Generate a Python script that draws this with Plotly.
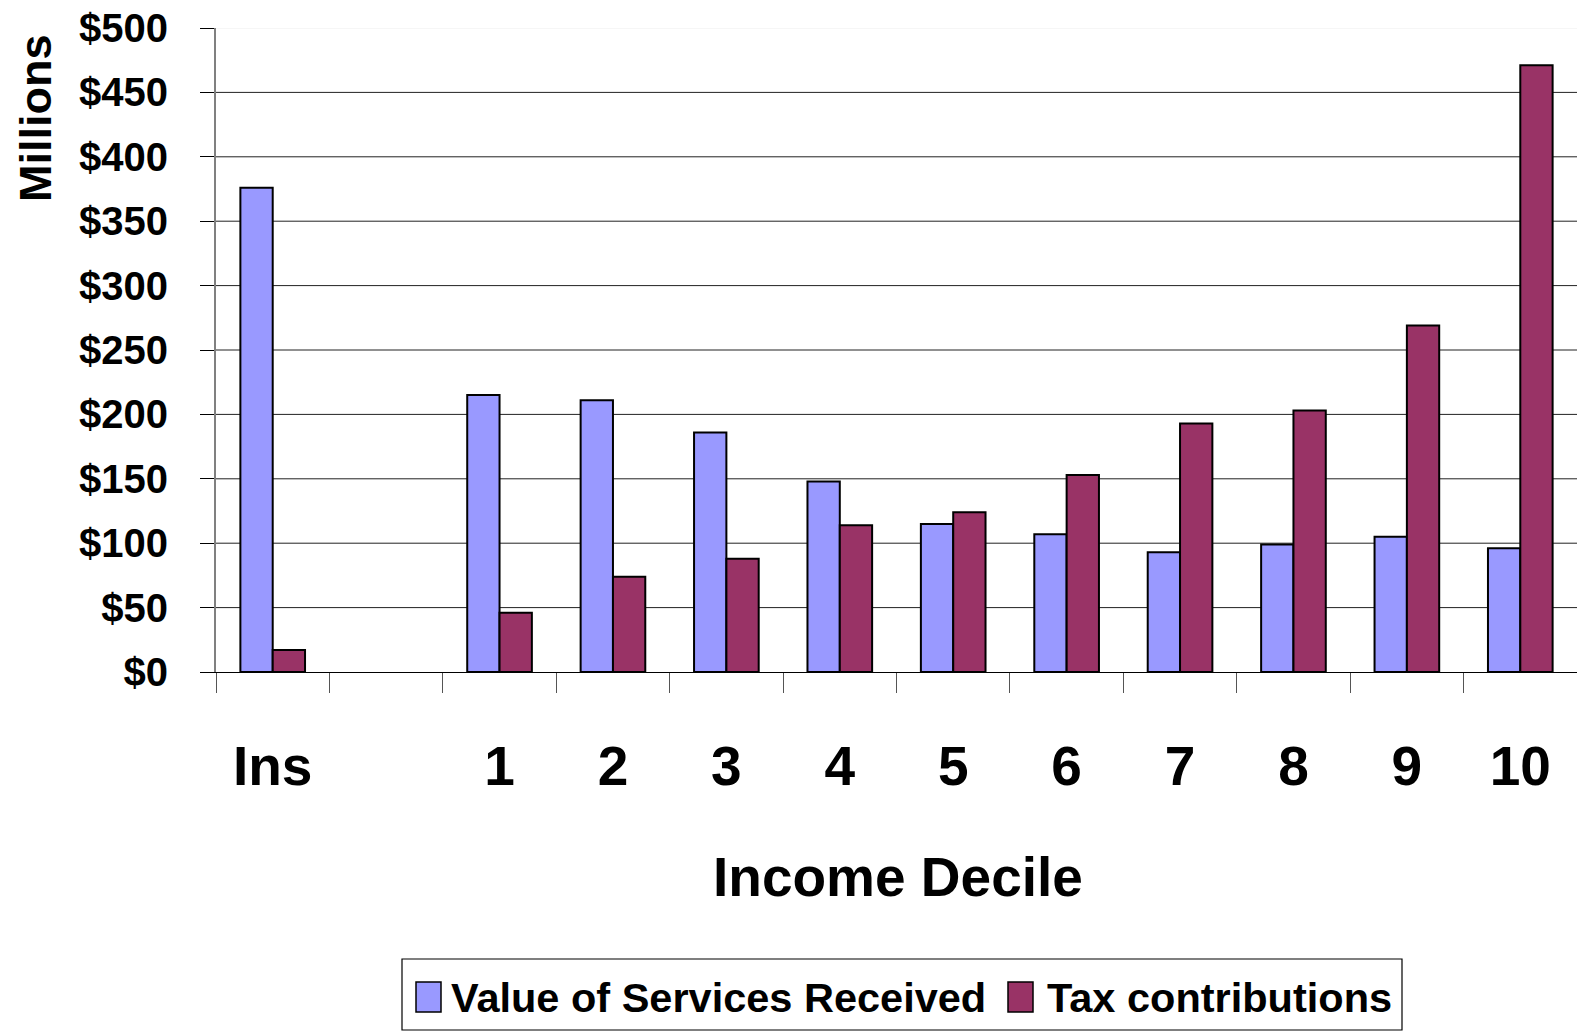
import plotly.graph_objects as go

# Categories along the income axis (a blank slot separates "Ins" from the deciles)
categories = ["Ins", " ", "1", "2", "3", "4", "5", "6", "7", "8", "9", "10"]

# Values in millions of dollars
services_received = [376, None, 215, 211, 186, 148, 115, 107, 93, 99, 105, 96]
tax_contributions = [17, None, 46, 74, 88, 114, 124, 153, 193, 203, 269, 471]

y_ticks = [0, 50, 100, 150, 200, 250, 300, 350, 400, 450, 500]
y_tick_labels = ["$" + str(v) for v in y_ticks]

series_names = ["Value of Services Received", "Tax contributions"]
series_colors = ["#9999FF", "#993366"]

FONT = "Liberation Sans, Arial, sans-serif"

W, H = 1577, 1031
ML, MR, MT, MB = 216, 0, 28, 359
PW, PH = W - ML - MR, H - MT - MB


def px_x(px):
    return (px - ML) / PW


def px_y(py):
    return (H - MB - py) / PH


fig = go.Figure()
for name, vals, color in zip(series_names, [services_received, tax_contributions], series_colors):
    fig.add_trace(go.Bar(
        x=categories, y=vals, name=name,
        marker=dict(color=color, line=dict(color="black", width=2)),
        showlegend=False,
    ))

# Horizontal gridlines
shapes = []
for v in y_ticks[1:]:
    shapes.append(dict(
        type="line", xref="paper", yref="y", x0=0, x1=1, y0=v, y1=v,
        line=dict(color="#eeeeee" if v == y_ticks[-1] else "#222222", width=1),
        layer="below",
    ))

# Legend box with swatches
shapes.append(dict(
    type="rect", xref="paper", yref="paper",
    x0=px_x(402), x1=px_x(1402), y0=px_y(1030), y1=px_y(959),
    line=dict(color="black", width=1.2), fillcolor="white",
))
swatch_x = [416, 1008]
text_x = [449, 1045]
annotations = []
for sx, tx, name, color in zip(swatch_x, text_x, series_names, series_colors):
    shapes.append(dict(
        type="rect", xref="paper", yref="paper",
        x0=px_x(sx), x1=px_x(sx + 25), y0=px_y(1012), y1=px_y(982),
        line=dict(color="black", width=1.5), fillcolor=color,
    ))
    annotations.append(dict(
        text=name, xref="paper", yref="paper", x=px_x(tx), y=px_y(997),
        xanchor="left", yanchor="middle", showarrow=False,
        font=dict(family=FONT, size=41.5, color="black", weight="bold"),
    ))

annotations.append(dict(
    text="Income Decile", xref="paper", yref="paper",
    x=px_x(898), y=px_y(877), xanchor="center", yanchor="middle", showarrow=False,
    font=dict(family=FONT, size=55, color="black", weight="bold"),
))
annotations.append(dict(
    text="Millions", xref="paper", yref="paper", textangle=-90,
    x=px_x(36), y=px_y(118), xanchor="center", yanchor="middle", showarrow=False,
    font=dict(family=FONT, size=45, color="black", weight="bold"),
))

fig.update_layout(
    width=W, height=H,
    margin=dict(l=ML, r=MR, t=MT, b=MB, pad=0),
    paper_bgcolor="white", plot_bgcolor="white",
    barmode="group", bargap=0.43, bargroupgap=0,
    shapes=shapes, annotations=annotations,
    showlegend=False,
)
fig.update_xaxes(
    type="category", categoryorder="array", categoryarray=categories,
    tickson="boundaries", ticks="outside", ticklen=20, tickwidth=1, tickcolor="#555555",
    showline=True, linecolor="black", linewidth=1, showgrid=False,
    tickfont=dict(family=FONT, size=55, color="black", weight="bold"),
    ticklabelstandoff=46,
)
fig.update_yaxes(
    range=[0, 500], tickvals=y_ticks, ticktext=y_tick_labels,
    ticks="outside", ticklen=14, tickwidth=1, tickcolor="black",
    showline=True, linecolor="#808080", linewidth=2, showgrid=False, zeroline=False,
    tickfont=dict(family=FONT, size=40, color="black", weight="bold"),
    ticklabelstandoff=24,
)

fig.write_html("out.html")
